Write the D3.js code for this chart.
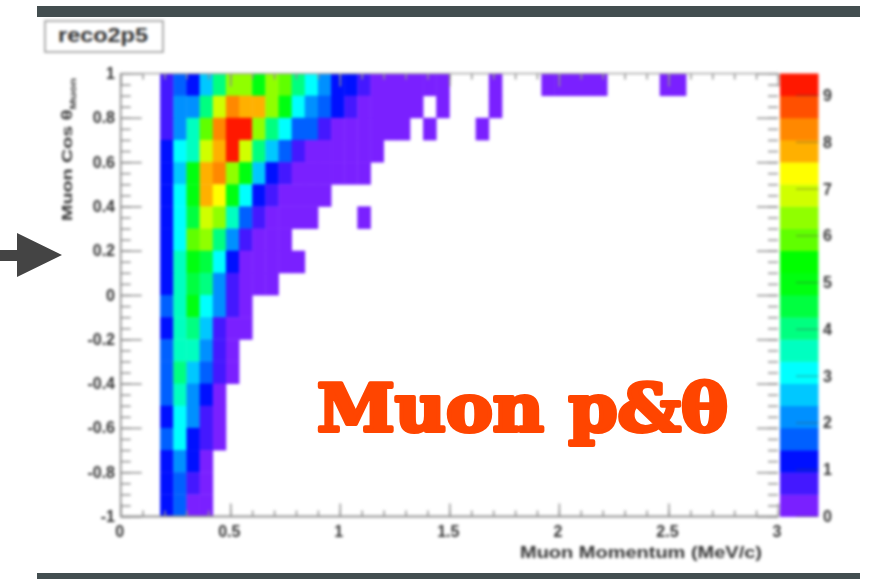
<!DOCTYPE html>
<html>
<head>
<meta charset="utf-8">
<script src="https://cdn.jsdelivr.net/npm/d3@7"></script>
<style>
  html, body { margin: 0; padding: 0; background: #fff; }
  svg { display: block; }
  .soft { filter: blur(1.5px); }
  .lab { font-family: "Liberation Sans", Arial, sans-serif; font-weight: bold; fill: #333; }
  .axis path { display: none; }
  .axis line { stroke: #909090; stroke-width: 1.5; }
  .axis text { display: none; }
</style>
</head>
<body>
<div id="chart"></div>
<script>
var _ = null;

// 20 colour bands of the palette, bottom to top
var palette = ["#7a20ff","#4418ff","#0010ff","#0060ff","#0090ff","#00c8ff","#00ffff","#00ffc0","#00ff80","#00ff40",
	"#00ff10","#00ff00","#60ff00","#90ff00","#d0ff00","#ffff00","#ffb000","#ff8800","#ff5000","#ff1800"];

var zMax = 9.47;
var xBinWidth = 0.06;
var yBinWidth = 0.1;
var firstCol = 3; // first filled bin is 0.18

// counts per bin, top row (cos 0.9 to 1) first, columns start at firstCol
var counts = [
	[.7,1.7,1.2,2.6,4,6.4,6.4,5,6.4,5.9,4,3.1,2.1,1.2,1.2,.7,.2,.2,.2,.2,.2,.2,_,_,_,.2,_,_,_,.2,.2,.2,.2,.2,_,_,_,_,.2,.2],
	[.7,2.1,2.1,4,6.9,8.3,7.8,7.8,6.4,5,3.1,2.1,1.7,1.2,.7,.2,.2,.2,.2,.2,_,.2,_,_,_,.2],
	[.7,2.1,3.6,5.9,8.3,9.2,9.2,6.4,4,3.1,1.7,1.7,.7,.2,.2,.2,.2,.2,.2,_,.2,_,_,_,.2],
	[1.2,3.1,3.6,6.9,7.8,9.2,6.9,4,2.6,1.7,.7,.2,.2,.2,.2,.2,.2],
	[1.2,2.6,5,7.8,8.3,6.4,5,2.6,1.2,.7,.2,.2,.2,.2,.2,.2],
	[1.2,3.1,5,7.8,7.4,5,3.1,1.2,.7,.2,.2,.2,.2],
	[1.2,3.1,4.5,6.9,6.4,3.6,1.7,.7,.2,.2,.2,.2,_,_,_,.2],
	[1.2,3.1,5.9,6.4,4,2.1,.7,.2,.2,.2],
	[1.2,3.6,5,4.5,3.1,1.2,.2,.2,.2,.2,.2],
	[1.2,3.6,4.5,4,2.1,.7,.2,.2,.2],
	[1.7,3.6,4.8,3.1,1.9,.5,.2],
	[1.2,3.4,4,2.6,.7,.2,.2],
	[1.7,3.6,3.6,2.1,.7,.2],
	[1.7,3.8,2.6,1.7,.5,.2],
	[1.7,3.4,2.1,1.2,.2],
	[1.2,3.3,2.1,.7,.2],
	[1.7,3.1,1.2,.5,.2],
	[1.2,2.1,1.2,.2],
	[1.2,1.7,.7,.2],
	[1.2,1.7,.2,.2]
];

var xTicks = [0, 0.5, 1, 1.5, 2, 2.5, 3];
var xMinor = d3.range(0, 3.01, 0.1);
var yTicks = [-1, -0.8, -0.6, -0.4, -0.2, 0, 0.2, 0.4, 0.6, 0.8, 1];
var yMinor = d3.range(-1, 1.01, 0.05);
var zTicks = [0, 1, 2, 3, 4, 5, 6, 7, 8, 9];

var width = 887, height = 579;
var x = d3.scaleLinear().domain([0, 3]).range([120.7, 778]);
var y = d3.scaleLinear().domain([-1, 1]).range([516.5, 73.5]);
var z = d3.scaleLinear().domain([0, zMax]).range([516.5, 73.5]);
var color = d3.scaleQuantize().domain([0, zMax]).range(palette);

var svg = d3.select("#chart").append("svg").attr("width", width).attr("height", height);

// slide furniture
svg.append("rect").attr("x", 37).attr("y", 6).attr("width", 823).attr("height", 11).attr("fill", "#434e50");
svg.append("rect").attr("x", 37).attr("y", 573).attr("width", 823).attr("height", 6).attr("fill", "#434e50");
svg.append("path").attr("d", "M0,250H17V233L62,255L17,277V261H0Z").attr("fill", "#444");

var g = svg.append("g").attr("class", "soft");

// title box
g.append("rect").attr("x", 45).attr("y", 21).attr("width", 118).attr("height", 31)
	.attr("fill", "#fff").attr("stroke", "#999").attr("stroke-width", 1.6);
g.append("text").attr("class", "lab").attr("x", 58).attr("y", 42)
	.attr("textLength", 90).attr("lengthAdjust", "spacingAndGlyphs")
	.style("font-size", "20px").text("reco2p5");

// cells
var cells = [];
counts.forEach(function(row, r) {
	row.forEach(function(v, c) {
		if (v != null) cells.push({ col: c + firstCol, row: r, v: v });
	});
});

g.append("g").selectAll("rect")
	.data(cells)
	.enter().append("rect")
		.attr("x", d => x(d.col * xBinWidth))
		.attr("y", d => y(1 - d.row * yBinWidth))
		.attr("width", d => x((d.col + 1) * xBinWidth) - x(d.col * xBinWidth) + 0.4)
		.attr("height", d => y(1 - (d.row + 1) * yBinWidth) - y(1 - d.row * yBinWidth) + 0.4)
		.attr("fill", d => color(d.v));

// axes, ticks point inward on all four sides
function ticks(axisFn, scale, values, size, pos) {
	g.append("g").attr("class", "axis").attr("transform", pos)
		.call(axisFn(scale).tickValues(values).tickSize(size));
}
var bottom = "translate(0," + y(-1) + ")", top_ = "translate(0," + y(1) + ")";
var left = "translate(" + x(0) + ",0)", right = "translate(" + x(3) + ",0)";
ticks(d3.axisBottom, x, xTicks, -13, bottom);
ticks(d3.axisBottom, x, xMinor, -6, bottom);
ticks(d3.axisTop, x, xTicks, -13, top_);
ticks(d3.axisTop, x, xMinor, -6, top_);
ticks(d3.axisLeft, y, yTicks, -21, left);
ticks(d3.axisLeft, y, yMinor, -10, left);
ticks(d3.axisRight, y, yTicks, -21, right);
ticks(d3.axisRight, y, yMinor, -10, right);

g.append("line").attr("x1", x(0)).attr("x2", x(3)).attr("y1", y(-1)).attr("y2", y(-1)).attr("stroke", "#909090").attr("stroke-width", 1.8);
g.append("line").attr("x1", x(0)).attr("x2", x(3)).attr("y1", y(1)).attr("y2", y(1)).attr("stroke", "#a8a8a8").attr("stroke-width", 1.4);
g.append("line").attr("x1", x(0)).attr("x2", x(0)).attr("y1", y(1)).attr("y2", y(-1)).attr("stroke", "#909090").attr("stroke-width", 1.8);

// colour bar
var bandH = zMax / palette.length;
g.append("g").selectAll("rect")
	.data(palette)
	.enter().append("rect")
		.attr("x", 780)
		.attr("width", 38.5)
		.attr("y", (d, i) => z((i + 1) * bandH))
		.attr("height", (d, i) => z(i * bandH) - z((i + 1) * bandH) + 0.4)
		.attr("fill", d => d);

g.append("g").selectAll("line")
	.data(zTicks)
	.enter().append("line")
		.attr("x1", 796).attr("x2", 818.5)
		.attr("y1", d => z(d)).attr("y2", d => z(d))
		.attr("stroke", "#444").attr("stroke-opacity", 0.5);

// tick labels
g.append("g").selectAll("text")
	.data(xTicks)
	.enter().append("text")
		.attr("class", "lab")
		.attr("x", d => x(d) - 1)
		.attr("y", 537)
		.attr("text-anchor", "middle")
		.style("font-size", "16px")
		.text(d => d);

g.append("g").selectAll("text")
	.data(yTicks)
	.enter().append("text")
		.attr("class", "lab")
		.attr("x", 115)
		.attr("y", d => y(d) + 5.5)
		.attr("text-anchor", "end")
		.style("font-size", "16px")
		.text(d => d);

g.append("g").selectAll("text")
	.data(zTicks)
	.enter().append("text")
		.attr("class", "lab")
		.attr("x", 823)
		.attr("y", d => z(d) + 5.5)
		.style("font-size", "16px")
		.text(d => d);

// axis titles
g.append("text").attr("class", "lab").attr("x", 520).attr("y", 558)
	.attr("textLength", 242).attr("lengthAdjust", "spacingAndGlyphs")
	.style("font-size", "16px").text("Muon Momentum (MeV/c)");

var yTitle = g.append("text").attr("class", "lab")
	.attr("transform", "translate(72,221) rotate(-90)")
	.attr("textLength", 143).attr("lengthAdjust", "spacingAndGlyphs")
	.style("font-size", "15px");
yTitle.append("tspan").text("Muon Cos \u03b8");
yTitle.append("tspan").attr("dy", 4).style("font-size", "9px").text("Muon");

// overlay label
svg.append("text")
	.attr("x", 317).attr("y", 431)
	.attr("textLength", 411)
	.attr("lengthAdjust", "spacingAndGlyphs")
	.attr("fill", "#ff4500").attr("stroke", "#ff4500").attr("stroke-width", 4).attr("stroke-linejoin", "round")
	.style("font-family", "'DejaVu Serif', serif")
	.style("font-weight", "bold")
	.style("font-size", "66px")
	.text("Muon p&\u03b8");
</script>
</body>
</html>
